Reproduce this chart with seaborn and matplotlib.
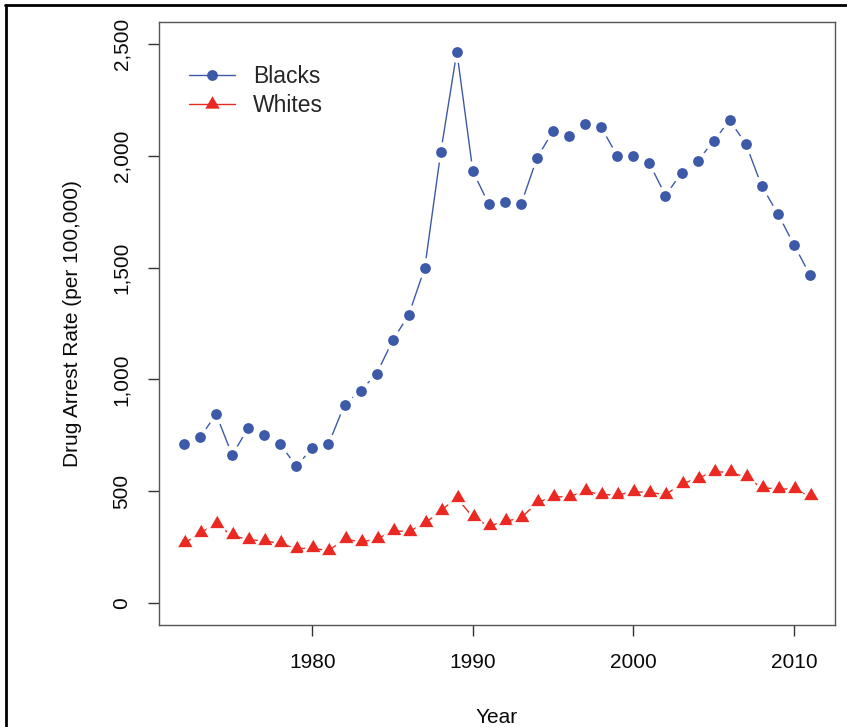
import matplotlib
matplotlib.use("Agg")
import matplotlib.pyplot as plt
import seaborn as sns
import pandas as pd
from matplotlib.lines import Line2D

# =========================
# DATA
# =========================
years = list(range(1972, 2012))

blacks = [710, 740, 844, 661, 782, 753, 710, 610, 694, 709,
          887, 949, 1025, 1174, 1289, 1499, 2019, 2467, 1931, 1783,
          1794, 1784, 1992, 2113, 2088, 2145, 2128, 2000, 2000, 1967,
          1823, 1925, 1978, 2067, 2160, 2055, 1865, 1742, 1603, 1468]

whites = [265, 313, 352, 301, 282, 277, 265, 242, 244, 233,
          284, 273, 283, 322, 318, 355, 412, 470, 382, 343,
          364, 379, 449, 473, 475, 499, 484, 482, 497, 493,
          484, 532, 556, 587, 583, 563, 515, 509, 509, 476]

x_ticks = [1980, 1990, 2000, 2010]
y_ticks = [0, 500, 1000, 1500, 2000, 2500]
y_tick_labels = ["0", "500", "1,000", "1,500", "2,000", "2,500"]

blue = "#3d5aa9"
red = "#ea2a22"

df = pd.DataFrame({"Year": years, "Blacks": blacks, "Whites": whites})

# =========================
# PLOT
# =========================
sns.set_style("white")
plt.rcParams["font.family"] = ["Liberation Sans", "DejaVu Sans"]

fig = plt.figure(figsize=(8.47, 7.27), dpi=100)
ax = fig.add_axes([0.1877, 0.1403, 0.7981, 0.8294])

# R style equilateral triangle (pch 17)
tri = [(0, 1), (-0.866, -0.5), (0.866, -0.5)]

# white marker edges give the gaps of R's type="b"
sns.lineplot(data=df, x="Year", y="Blacks", ax=ax, color=blue, lw=1.0,
             marker="o", markersize=11.3, markeredgecolor="white",
             markeredgewidth=3.5, label="Blacks")
sns.lineplot(data=df, x="Year", y="Whites", ax=ax, color=red, lw=1.0,
             marker=tri, markersize=14.5, markeredgecolor="white",
             markeredgewidth=2.0, label="Whites")

ax.set_xlim(1970.44, 2012.56)
ax.set_ylim(-100, 2600)
ax.set_xticks(x_ticks)
ax.set_yticks(y_ticks)
ax.set_yticklabels(y_tick_labels, rotation=90, va="center")

ax.tick_params(axis="both", direction="out", length=8, width=1,
               color="#333333", labelsize=15, pad=12, labelcolor="#0a0a0a")
ax.tick_params(axis="x", bottom=True)
ax.tick_params(axis="y", left=True)

for sp in ax.spines.values():
    sp.set_color("#555555")
    sp.set_linewidth(1.0)

ax.set_xlabel("Year", fontsize=15, color="#0a0a0a")
ax.set_ylabel("Drug Arrest Rate (per 100,000)", fontsize=15, color="#0a0a0a")
ax.xaxis.set_label_coords(0.5, -0.1376)
ax.yaxis.set_label_coords(-0.114, 0.5)

leg = ax.legend(loc="upper left", bbox_to_anchor=(0.0444, 0.928),
                frameon=False, fontsize=16.5, borderpad=0, borderaxespad=0,
                handlelength=2.0, handletextpad=0.8, labelspacing=0.26)
# legend keys: line runs through the marker, no gap
for h, ms in zip(leg.legend_handles, [7.8, 12.0]):
    h.set_markeredgewidth(0)
    h.set_markersize(ms)

# outer frame (only top and left visible in the cropped original)
fig.add_artist(Line2D([0.006, 1.0], [0.9935, 0.9935], transform=fig.transFigure,
                      color="black", lw=2))
fig.add_artist(Line2D([0.007, 0.007], [0.0, 0.9935], transform=fig.transFigure,
                      color="black", lw=2))

fig.savefig("out.png", dpi=100)
